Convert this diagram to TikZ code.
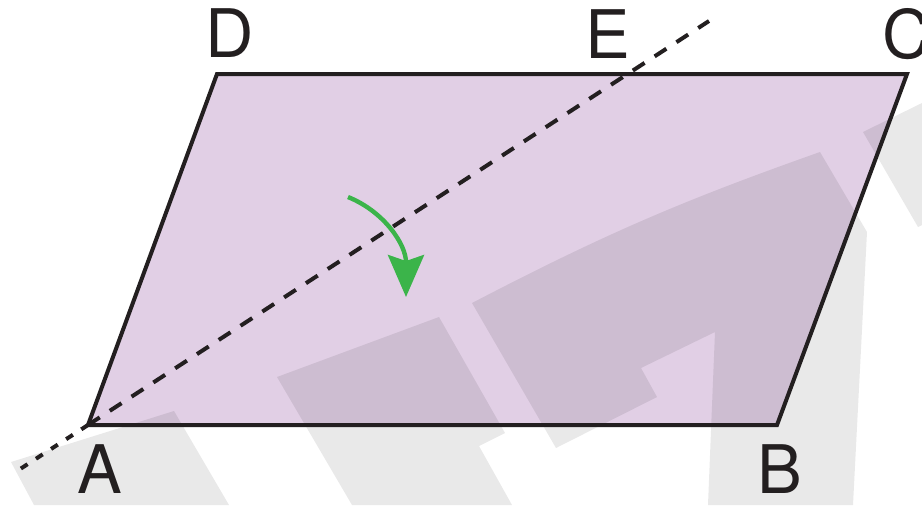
\documentclass[tikz,border=0pt]{standalone}
\usepackage{fontspec}
\newfontfamily\lblfont{TeX Gyre Heros}
\usepackage{xcolor}
\definecolor{pgfill}{HTML}{E1CFE5}
\definecolor{pgink}{HTML}{231F20}
\definecolor{pggreen}{HTML}{3BB44A}
\usepackage{tikz}
\usetikzlibrary{arrows.meta}
\tikzset{
  every picture/.style={line cap=butt, line join=miter},
  vlbl/.style={font=\lblfont\fontsize{33.5}{40}\selectfont, text=pgink, inner sep=0pt},
  side/.style={pgink, line width=2pt},
  foldline/.style={pgink, line width=2pt, dash pattern=on 7pt off 6pt},
  foldend/.style={pgink, line width=2pt, dash pattern=on 4pt off 5pt},
  turn/.style={pggreen, line width=2.2pt, -{Stealth[length=21pt,width=18pt,inset=3pt]}},
  wmark/.style={fill=black, fill opacity=0.085},
}

\begin{document}
\begin{tikzpicture}[x=0.5pt, y=-0.5pt]
\useasboundingbox (0,0) rectangle (922,505);
\coordinate (A) at (88,425);
\coordinate (B) at (777,425);
\coordinate (C) at (907,74);
\coordinate (D) at (217,74);
\coordinate (E) at (628,74);
\coordinate (cutL) at (14,473);
\coordinate (cutR) at (709,21);
\coordinate (turnS) at (348,197);
\coordinate (turnT) at (406,297);
\fill[pgfill] (A) -- (B) -- (C) -- (D) -- cycle;
% watermark
\fill[wmark] (11,462) -- (174,411) -- (229,505) -- (34,505) -- cycle;
\fill[wmark] (277,377) -- (439,317) -- (505,433) -- (479,446) -- (512,505) -- (352,505) -- cycle;
\fill[wmark] (472,303) to[bend left=4] (820,152) -- (867,232) -- (853,505) -- (708,505)
  -- (715,332) -- (641,368) -- (657,397) -- (556,448) -- cycle;
\fill[wmark] (863,132) -- (922,103) -- (922,225) -- (918,227) -- cycle;
\draw[side] (A) -- (B) -- (C) -- (D) -- cycle;
\draw[foldline] (A) -- (cutR);
\draw[foldend] (A) -- (cutL);
\draw[turn] (turnS) .. controls (385,212) and (406,245) .. (turnT);
\node[vlbl] (lD) at (230,33) {D};
\node[vlbl] (lE) at (608,34) {E};
\node[vlbl] (lC) at (907,34) {C};
\node[vlbl] (lA) at (100,469) {A};
\node[vlbl] (lB) at (780,469) {B};
\end{tikzpicture}
\end{document}
